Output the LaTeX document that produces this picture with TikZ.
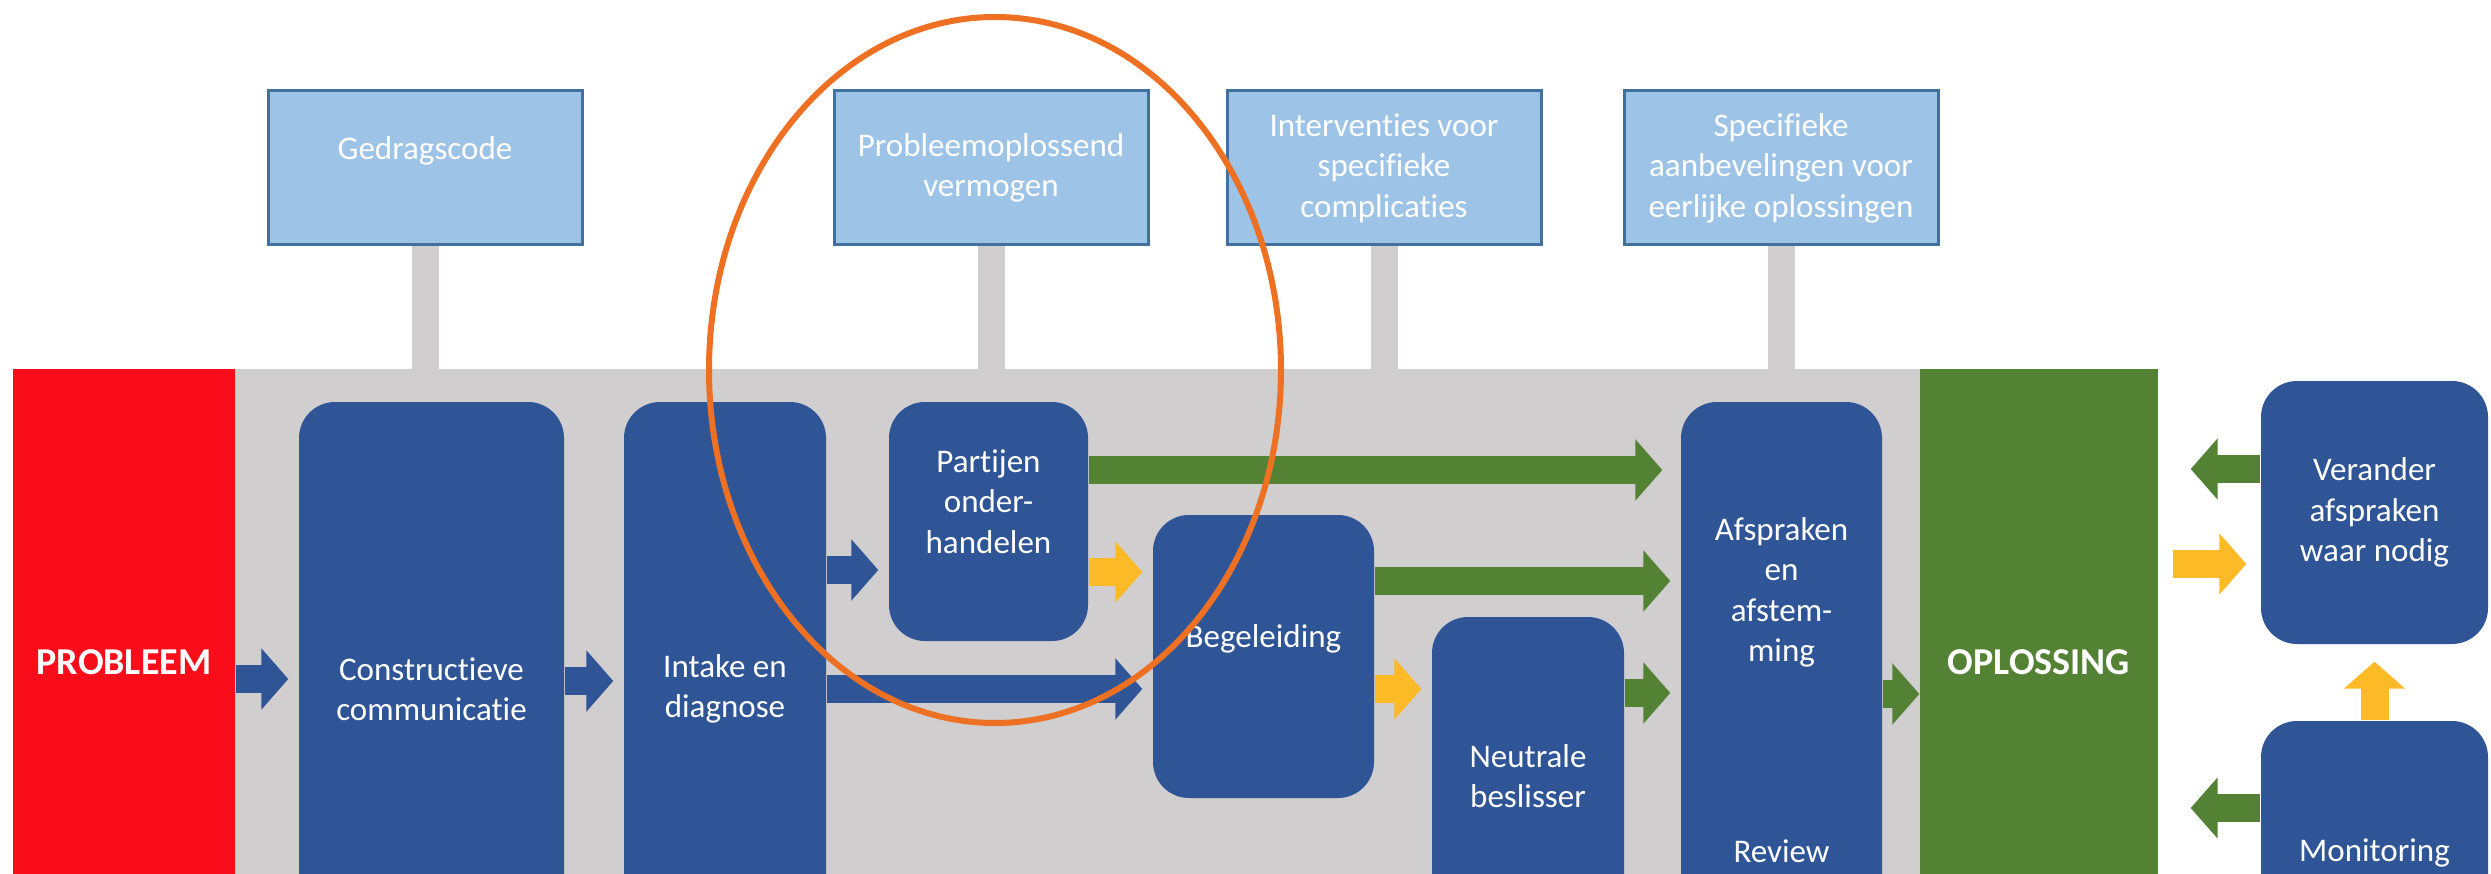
\documentclass[tikz,border=0pt]{standalone}
\usepackage{fontspec}
\setmainfont{Carlito}[Ligatures=NoCommon]
\usetikzlibrary{positioning, arrows.meta}

\definecolor{boxblue}{HTML}{2F5597}
\definecolor{lightblue}{HTML}{9DC3E6}
\definecolor{frameblue}{HTML}{41719C}
\definecolor{bandgray}{HTML}{D0CECE}
\definecolor{probred}{HTML}{F90D1B}
\definecolor{solgreen}{HTML}{548235}
\definecolor{flowyellow}{HTML}{FBBA26}
\definecolor{markorange}{HTML}{EE7023}

\tikzset{
    txt/.style={text=white, align=center, font=\fontsize{9.4}{11.5}\selectfont},
    topbox/.style={txt, fill=lightblue, draw=frameblue, line width=0.3mm, minimum width=31.4mm, minimum height=15.4mm, inner sep=0pt},
    stepbox/.style={txt, fill=boxblue, rounded corners=3.6mm, inner sep=0pt},
    endbox/.style={text=white, font=\fontsize{10.8}{13}\selectfont\bfseries, minimum width=22.2mm, minimum height=58.6mm, inner sep=0pt},
    stem/.style={bandgray, line width=2.7mm},
    flow/.style={line width=2.8mm, -{Triangle[width=6mm,length=2.7mm]}, shorten >=1mm}
}

\begin{document}
\begin{tikzpicture}[x=0.1mm, y=-0.1mm]
        \useasboundingbox (0,0) rectangle (2491,874);
        \clip (0,0) rectangle (2491,874);
        \fill[bandgray] (235,369) rectangle (1920,990);

        \node[endbox, fill=probred] (probleem) at (124,662) {PROBLEEM};
        \node[endbox, fill=solgreen, minimum width=23.8mm] (oplossing) at (2039,662) {OPLOSSING};

        \node[topbox] (gedrag) at (425,168) {Gedragscode\\~};
        \node[topbox] (vermogen) at (991,168) {Probleemoplossend\\vermogen};
        \node[topbox] (interv) at (1384,168) {Interventies voor\\specifieke\\complicaties};
        \node[topbox] (aanbev) at (1781,168) {Specifieke\\aanbevelingen voor\\eerlijke oplossingen};
        \foreach \n in {gedrag, vermogen, interv, aanbev}
            \draw[stem] (\n.south) -- (\n.south |- 0,369);

        \node[stepbox, minimum width=26.5mm, minimum height=57.4mm] (constr) at (431.5,689) {Constructieve\\communicatie};
        \node[stepbox, minimum width=20.2mm, minimum height=57.4mm] (intake) at (725,689) {Intake en\\diagnose};
        \node[stepbox, minimum width=19.9mm, minimum height=23.9mm] (partijen) at (988.5,521.5) {Partijen\\onder-\\handelen\\~};
        \node[stepbox, minimum width=22.1mm, minimum height=28.3mm] (begel) at (1263.5,656.5) {Begeleiding\\~};
        \node[stepbox, minimum width=19.2mm, minimum height=31.8mm] (neutr) at (1528,776) {Neutrale\\beslisser};
        \node[stepbox, minimum width=20.1mm, minimum height=57.6mm] (afspr) at (1781.5,690) {Afspraken\\en\\afstem-\\ming\\[16mm]Review};
        \node[stepbox, minimum width=22.7mm, minimum height=26.3mm] (verander) at (2374.5,512.5) {Verander\\afspraken\\waar nodig};
        \node[stepbox, minimum width=22.7mm, minimum height=26.4mm] (monit) at (2374.5,853) {Monitoring};

        \draw[flow, boxblue] (probleem.east |- 0,679) -- (constr.west |- 0,679);
        \draw[flow, boxblue] (constr.east |- 0,681) -- (intake.west |- 0,681);
        \draw[flow, boxblue] (intake.east |- 0,570) -- (partijen.west |- 0,570);
        \draw[flow, boxblue] (intake.east |- 0,689) -- (begel.west |- 0,689);
        \draw[flow, flowyellow] (partijen.east |- 0,572) -- (begel.west |- 0,572);
        \draw[flow, solgreen, shorten >=1.8mm] (partijen.east |- 0,470) -- (afspr.west |- 0,470);
        \draw[flow, solgreen] (begel.east |- 0,581) -- (afspr.west |- 0,581);
        \draw[flow, flowyellow] (begel.east |- 0,689) -- (neutr.west |- 0,689);
        \draw[flow, solgreen] (neutr.east |- 0,693) -- (afspr.west |- 0,693);
        \draw[flow, solgreen, shorten >=0pt] (afspr.east |- 0,694) -- (oplossing.west |- 0,694);
        \draw[flow, solgreen, shorten >=3.2mm] (verander.west |- 0,469) -- (oplossing.east |- 0,469);
        \draw[flow, flowyellow, shorten <=1.4mm, shorten >=1.4mm] (oplossing.east |- 0,564) -- (verander.west |- 0,564);
        \draw[flow, flowyellow, shorten >=1.7mm] (monit.north) -- (verander.south);
        \draw[flow, solgreen, shorten >=3.2mm] (monit.west |- 0,808) -- (oplossing.east |- 0,808);

        \draw[markorange, line width=0.6mm] (995,370) ellipse [x radius=28.6mm, y radius=35.3mm];
    \end{tikzpicture}
\end{document}
